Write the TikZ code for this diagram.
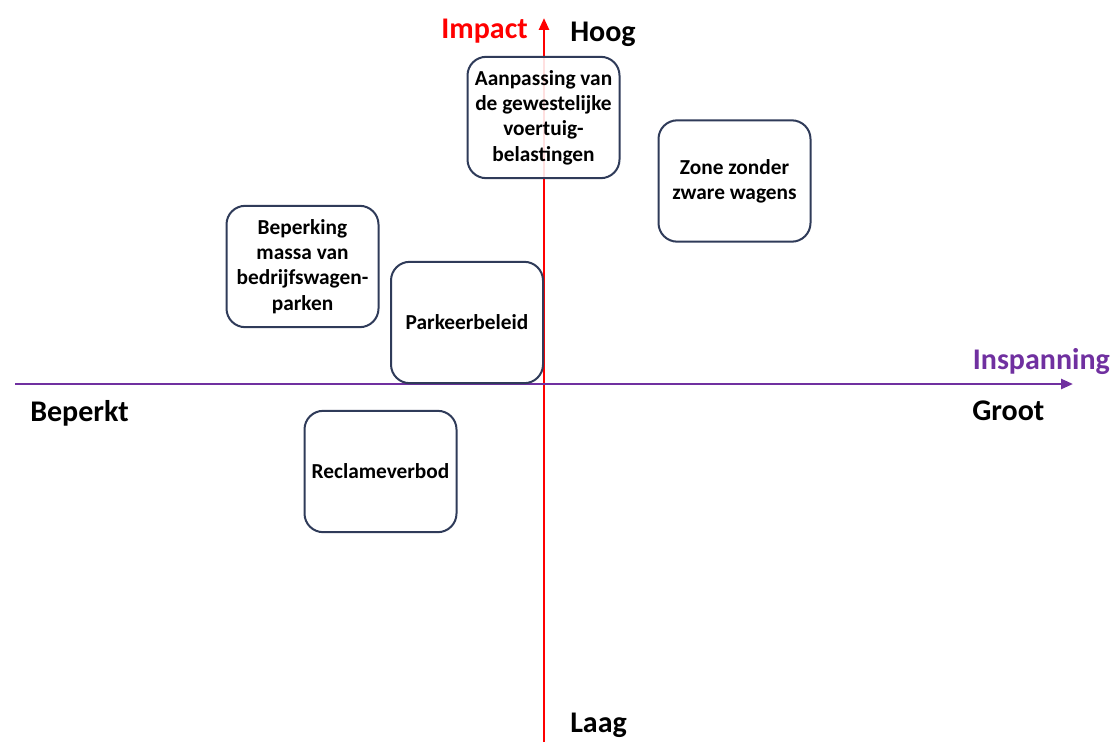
\documentclass[tikz,border=0pt]{standalone}
\usepackage{fontspec}
\setmainfont{Carlito}
\usetikzlibrary{arrows.meta}
\definecolor{impactred}{HTML}{FF0000}
\definecolor{effortpurple}{HTML}{7030A0}
\definecolor{boxblue}{HTML}{2F3B59}
\begin{document}
\begin{tikzpicture}[x=0.75pt,y=-0.75pt,
    measure/.style={draw=boxblue,line width=1.5pt,rounded corners=14pt,fill=white,fill opacity=0.88,text opacity=1,
      minimum width=114pt,minimum height=91pt,align=center,font=\bfseries\fontsize{16}{19}\selectfont,inner sep=0pt},
    axislabel/.style={font=\bfseries\fontsize{22.5}{26}\selectfont,inner sep=0pt}]
    \useasboundingbox (0,0) rectangle (1112,742);
    % axes
    \coordinate (ybot) at (544,742);
    \coordinate (ytop) at (544,18);
    \coordinate (xleft) at (15,384);
    \coordinate (xright) at (1073,384);
    \draw [impactred,line width=1.9pt,-{Triangle[length=9pt,width=7.5pt]}] (ybot) -- (ytop);
    \draw [effortpurple,line width=1.9pt,-{Triangle[length=9pt,width=7.5pt]}] (xleft) -- (xright);
    % axis labels
    \node [axislabel,impactred,anchor=east] (impact) at (528,31) {Impact};
    \node [axislabel,anchor=west] (hoog) at (570,34) {Hoog};
    \node [axislabel,anchor=west] (laag) at (570,725) {Laag};
    \node [axislabel,effortpurple,anchor=east] (inspanning) at (1110,362) {Inspanning};
    \node [axislabel,anchor=west] (groot) at (972,411) {Groot};
    \node [axislabel,anchor=west] (beperkt) at (30,413) {Beperkt};
    % measures
    \node [measure] (voertuig) at (543.5,117.5) {Aanpassing van\\de gewestelijke\\voertuig-\\belastingen};
    \node [measure] (zone) at (734.5,181) {Zone zonder\\zware wagens};
    \node [measure] (massa) at (302.5,266.5) {Beperking\\massa van\\bedrijfswagen-\\parken};
    \node [measure] (parkeer) at (467,322.5) {Parkeerbeleid};
    \node [measure] (reclame) at (380.5,471.5) {Reclameverbod};
\end{tikzpicture}
\end{document}
